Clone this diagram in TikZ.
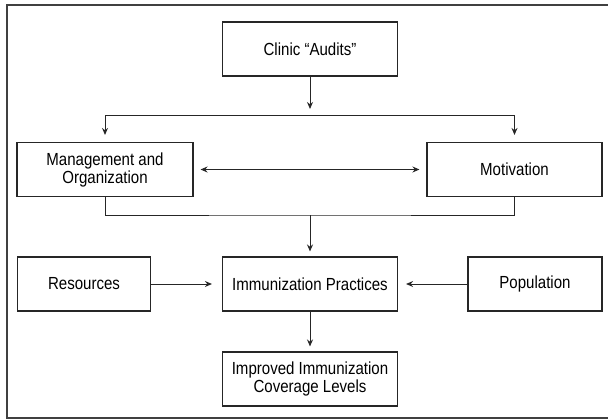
\documentclass[tikz,border=0pt]{standalone}
\usepackage{fontspec}
\setmainfont{Liberation Sans}[FakeStretch=0.86]
\usetikzlibrary{arrows.meta}
\begin{document}
\begin{tikzpicture}[
			x=1pt, y=-1pt,
			blocco/.style={draw=black!85, line width=1.1pt, fill=white, inner sep=0pt, align=center, minimum height=54pt, font=\fontsize{17.5}{18}\selectfont},
			freccia/.style={line width=1pt, draw=black!85, -{Stealth[length=7pt,width=6pt]}},
			linea/.style={line width=1pt, draw=black!85},
			cornice/.style={line width=1.2pt, draw=black!75},
			]
			
			\useasboundingbox (0,0) rectangle (608,420);
			\draw[cornice](7,5) rectangle (612,418);
			
			%% ── blocks ──────────────────────────────────────────
			\node[blocco, minimum width=175pt](audit) at (310,49) {Clinic ``Audits''};
			\node[blocco, minimum width=176pt](mgmt) at (105,169.5) {Management and\\Organization};
			\node[blocco, minimum width=175pt](motiv) at (514.5,169.5) {Motivation};
			\node[blocco, minimum width=133pt](risorse) at (84,284) {Resources};
			\node[blocco, minimum width=175pt](pratiche) at (310,284) {Immunization Practices};
			\node[blocco, minimum width=134pt](popol) at (535,284) {Population};
			\node[blocco, minimum width=175pt](copert) at (310,379) {Improved Immunization\\Coverage Levels};
			
			\coordinate (fork) at (310,109);
			\coordinate (split) at (310,115);
			\coordinate (join) at (310,215);
			
			%% ── connectors ──────────────────────────────────────
			\draw[freccia](audit)--(fork);
			\draw[freccia, shorten >=7pt](split)-|(mgmt.north);
			\draw[freccia, shorten >=7pt](split)-|(motiv.north);
			\draw[freccia, {Stealth[length=7pt,width=6pt]}-{Stealth[length=7pt,width=6pt]}, shorten >=7pt, shorten <=7pt](mgmt)--(motiv);
			\draw[linea](mgmt.south)|-(join)-|(motiv.south);
			\draw[freccia, shorten >=5pt](join)--(pratiche);
			\draw[freccia, shorten >=10pt](risorse)--(pratiche);
			\draw[freccia, shorten >=8pt](popol)--(pratiche);
			\draw[freccia, shorten >=5pt](pratiche)--(copert);
			
	\end{tikzpicture}
\end{document}
